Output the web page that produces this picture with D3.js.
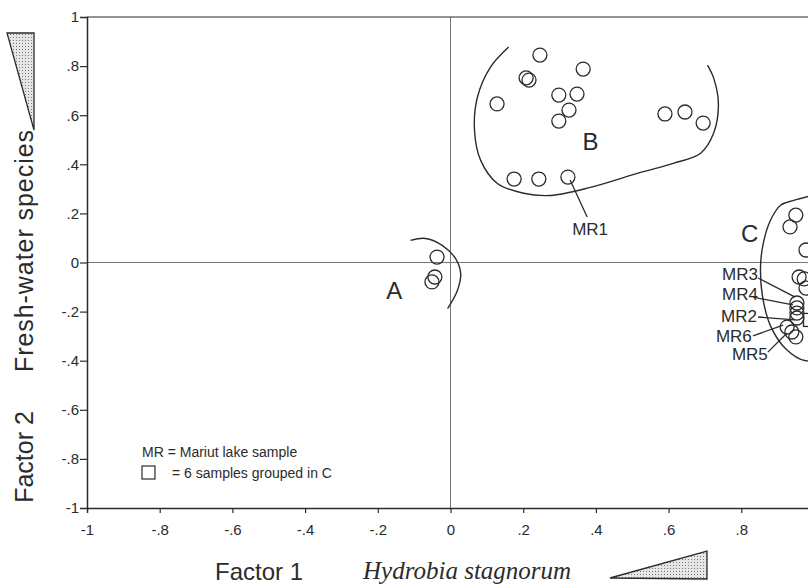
<!DOCTYPE html>
<html>
<head lang="en">
    <meta charset="UTF-8">
    <title></title>
    <script src="https://cdn.jsdelivr.net/npm/d3@7/dist/d3.min.js"></script>
    <style>
        body { margin: 0; background: #fff; }
        svg { font-family: "Liberation Sans", Arial, sans-serif; }
    </style>
</head>
<body>
<svg id="chart" width="808" height="584"></svg>
<script>
    // ticks (the x axis runs past the right edge, so its "1" is not shown)
    var xTickValues = [-1, -0.8, -0.6, -0.4, -0.2, 0, 0.2, 0.4, 0.6, 0.8];
    var yTickValues = [-1, -0.8, -0.6, -0.4, -0.2, 0, 0.2, 0.4, 0.6, 0.8, 1];

    // samples [factor1, factor2]
    var groupA = [[-0.037, 0.022], [-0.043, -0.059], [-0.051, -0.079]];
    var groupB = [
        [0.246, 0.845], [0.365, 0.788], [0.208, 0.752], [0.216, 0.743],
        [0.128, 0.646], [0.298, 0.682], [0.348, 0.686], [0.326, 0.621],
        [0.298, 0.576], [0.590, 0.605], [0.645, 0.613], [0.695, 0.568],
        [0.175, 0.340], [0.243, 0.340], [0.323, 0.348]
    ];
    var groupC = [
        [0.950, 0.193], [0.934, 0.145], [0.978, 0.051], [0.959, -0.059],
        [0.973, -0.067], [0.978, -0.104], [0.953, -0.165], [0.953, -0.185],
        [0.953, -0.206], [0.953, -0.226], [0.926, -0.263], [0.939, -0.283],
        [0.950, -0.303]
    ];
    var groupedSquare = [[0.989, -0.234]];

    // group outlines
    var hullA = [[-0.110, 0.090], [-0.069, 0.098], [-0.022, 0.069], [0.014, 0.016],
        [0.028, -0.045], [0.019, -0.114], [-0.008, -0.188]];
    var hullB = [[0.160, 0.878], [0.110, 0.796], [0.074, 0.673], [0.066, 0.539],
        [0.083, 0.416], [0.129, 0.322], [0.201, 0.282], [0.275, 0.273],
        [0.385, 0.306], [0.523, 0.367], [0.613, 0.404], [0.688, 0.445],
        [0.724, 0.527], [0.737, 0.649], [0.724, 0.751], [0.707, 0.804]];
    var hullC = [[1.000, 0.275], [0.944, 0.253], [0.908, 0.233], [0.880, 0.171],
        [0.861, 0.082], [0.853, -0.012], [0.858, -0.135], [0.880, -0.257],
        [0.922, -0.351], [0.977, -0.400], [1.032, -0.380]];

    var groupLabels = [
        {text: "A", x: -0.155, y: -0.150},
        {text: "B", x: 0.385, y: 0.460},
        {text: "C", x: 0.823, y: 0.085}
    ];

    // Mariut lake samples: label position and leader line
    var mrLabels = [
        {text: "MR1", x: 0.384, y: 0.112, anchor: "middle", from: [0.329, 0.336], to: [0.376, 0.185]},
        {text: "MR3", x: 0.846, y: -0.071, anchor: "end", from: [0.846, -0.063], to: [0.948, -0.141]},
        {text: "MR4", x: 0.846, y: -0.153, anchor: "end", from: [0.832, -0.141], to: [0.942, -0.173]},
        {text: "MR2", x: 0.843, y: -0.242, anchor: "end", from: [0.846, -0.222], to: [0.948, -0.234]},
        {text: "MR6", x: 0.829, y: -0.324, anchor: "end", from: [0.832, -0.299], to: [0.915, -0.255]},
        {text: "MR5", x: 0.873, y: -0.397, anchor: "end", from: [0.873, -0.365], to: [0.926, -0.287]}
    ];

    var svg = d3.select("#chart");
    var ink = "#2b2b2b";

    var x = d3.scaleLinear().domain([-1, 1]).range([87, 814]);
    var y = d3.scaleLinear().domain([-1, 1]).range([508, 17]);

    function fmt(v){
        if (v === 0) return "0";
        if (Math.abs(v) === 1) return String(v);
        return String(v).replace("0.", ".");
    }

    // stipple pattern for the triangles
    var pat = svg.append("defs").append("pattern")
            .attr("id", "dots")
            .attr("width", 3)
            .attr("height", 3)
            .attr("patternUnits", "userSpaceOnUse");
    pat.append("rect").attr("width", 3).attr("height", 3).attr("fill", "#e6e6e6");
    pat.append("rect").attr("x", 1).attr("y", 1).attr("width", 1).attr("height", 1).attr("fill", "#777");

    // zero lines
    svg.append("line")
            .attr("x1", x(-1)).attr("x2", 808)
            .attr("y1", y(0)).attr("y2", y(0))
            .attr("stroke", "#777").attr("stroke-width", 1);
    svg.append("line")
            .attr("x1", x(0)).attr("x2", x(0))
            .attr("y1", y(1)).attr("y2", y(-1))
            .attr("stroke", "#777").attr("stroke-width", 1);

    // top border
    svg.append("line")
            .attr("x1", x(-1)).attr("x2", 808)
            .attr("y1", y(1)).attr("y2", y(1))
            .attr("stroke", ink).attr("stroke-width", 1.2);

    var gx = svg.append("g")
            .attr("transform", "translate(0," + y(-1) + ")")
            .call(d3.axisBottom(x).tickValues(xTickValues).tickFormat(fmt).tickSize(5).tickPadding(11));
    var gy = svg.append("g")
            .attr("transform", "translate(" + x(-1) + ",0)")
            .call(d3.axisLeft(y).tickValues(yTickValues).tickFormat(fmt).tickSize(7).tickPadding(1));
    [gx, gy].forEach(function(g){
        g.select(".domain").attr("stroke", ink).attr("stroke-width", 1.5);
        g.selectAll(".tick line").attr("stroke", ink).attr("stroke-width", 1.2);
        g.selectAll(".tick text")
                .attr("fill", ink)
                .attr("font-size", 15)
                .attr("font-family", "Liberation Sans, Arial, sans-serif");
    });
    gx.select(".tick line").attr("stroke", "none");
    gy.selectAll(".tick line").filter(function(d){ return d === 1 || d === -1; }).attr("stroke", "none");

    // group outlines
    var hull = d3.line()
            .x(function(d){ return x(d[0]); })
            .y(function(d){ return y(d[1]); })
            .curve(d3.curveCatmullRom.alpha(0.5));
    [hullA, hullB, hullC].forEach(function(h){
        svg.append("path")
                .attr("d", hull(h))
                .attr("fill", "none")
                .attr("stroke", ink)
                .attr("stroke-width", 1.4);
    });

    // samples
    svg.append("g").selectAll("circle")
            .data(groupA.concat(groupB, groupC))
            .enter().append("circle")
            .attr("cx", function(d){ return x(d[0]); })
            .attr("cy", function(d){ return y(d[1]); })
            .attr("r", 7)
            .attr("fill", "none")
            .attr("stroke", ink)
            .attr("stroke-width", 1.3);

    svg.append("g").selectAll("rect")
            .data(groupedSquare)
            .enter().append("rect")
            .attr("x", function(d){ return x(d[0]) - 6.5; })
            .attr("y", function(d){ return y(d[1]) - 6.5; })
            .attr("width", 13)
            .attr("height", 13)
            .attr("fill", "none")
            .attr("stroke", ink)
            .attr("stroke-width", 1.3);

    // leader lines and MR labels
    svg.append("g").selectAll("line")
            .data(mrLabels)
            .enter().append("line")
            .attr("x1", function(d){ return x(d.from[0]); })
            .attr("y1", function(d){ return y(d.from[1]); })
            .attr("x2", function(d){ return x(d.to[0]); })
            .attr("y2", function(d){ return y(d.to[1]); })
            .attr("stroke", ink)
            .attr("stroke-width", 1.3);
    svg.append("g").selectAll("text")
            .data(mrLabels)
            .enter().append("text")
            .attr("x", function(d){ return x(d.x); })
            .attr("y", function(d){ return y(d.y); })
            .attr("text-anchor", function(d){ return d.anchor; })
            .attr("font-size", 17)
            .attr("fill", ink)
            .text(function(d){ return d.text; });

    svg.append("g").selectAll("text")
            .data(groupLabels)
            .enter().append("text")
            .attr("x", function(d){ return x(d.x); })
            .attr("y", function(d){ return y(d.y); })
            .attr("text-anchor", "middle")
            .attr("font-size", 24)
            .attr("fill", ink)
            .text(function(d){ return d.text; });

    // legend
    svg.append("text")
            .attr("x", 142).attr("y", 457)
            .attr("font-size", 14).attr("fill", ink)
            .text("MR = Mariut lake sample");
    svg.append("rect")
            .attr("x", 142).attr("y", 466)
            .attr("width", 13).attr("height", 13)
            .attr("fill", "none").attr("stroke", ink).attr("stroke-width", 1.2);
    svg.append("text")
            .attr("x", 172).attr("y", 478)
            .attr("font-size", 14).attr("fill", ink)
            .text("= 6 samples grouped in C");

    // axis titles
    svg.append("text")
            .attr("transform", "translate(33,457) rotate(-90)")
            .attr("text-anchor", "middle")
            .attr("font-size", 25).attr("fill", ink)
            .text("Factor 2");
    svg.append("text")
            .attr("transform", "translate(33,251) rotate(-90)")
            .attr("text-anchor", "middle")
            .attr("font-size", 25).attr("fill", ink)
            .attr("textLength", 242)
            .text("Fresh-water species");
    svg.append("text")
            .attr("x", 215).attr("y", 580)
            .attr("font-size", 24).attr("fill", ink)
            .text("Factor 1");
    svg.append("text")
            .attr("x", 363).attr("y", 579)
            .attr("font-size", 25)
            .attr("font-family", "Liberation Serif, serif")
            .attr("font-style", "italic")
            .attr("fill", ink)
            .text("Hydrobia stagnorum");

    // gradient triangles
    svg.append("path")
            .attr("d", "M7,33 L34,33 L34,130 Z")
            .attr("fill", "url(#dots)").attr("stroke", ink).attr("stroke-width", 1.3);
    svg.append("path")
            .attr("d", "M610,578 L707,551 L707,579 Z")
            .attr("fill", "url(#dots)").attr("stroke", ink).attr("stroke-width", 1.3);
</script>
</body>
</html>
